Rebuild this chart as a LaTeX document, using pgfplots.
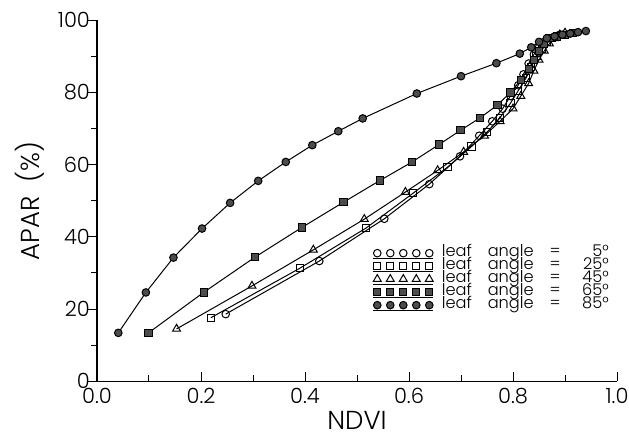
\documentclass[border=0pt]{standalone}
\usepackage{pgfplots}
\pgfplotsset{compat=1.18}
\usepackage{fontspec}
\setmainfont{Poppins Light}
\begin{document}
\begin{tikzpicture}
\begin{axis}[
 name=ax,
 scale only axis, width=260pt, height=180.5pt,
 xmin=0, xmax=1, ymin=0, ymax=100,
 axis lines*=left,
 axis line style={line width=0.6pt},
 xtick={0,0.2,0.4,0.6,0.8,1.0}, ytick={0,20,40,60,80,100},
 minor x tick num=1, minor y tick num=1,
 x tick label style={/pgf/number format/.cd,fixed,fixed zerofill,precision=1},
 /pgf/number format/assume math mode=true,
 tick align=inside, major tick length=4.5pt, minor tick length=3pt,
 every major y tick/.append style={xshift=-4.5pt},
 every minor y tick/.append style={xshift=-3pt},
 tick style={black, line width=0.5pt},
 tick label style={font=\fontsize{10.5}{12}\selectfont},
 label style={font=\fontsize{13}{14}\selectfont},
 xlabel={NDVI}, ylabel={APAR\ \ (\%)},
 xlabel style={yshift=3pt},
 legend style={draw=none, fill=none, at={(0.518,0.385)}, anchor=north west,
   font=\fontsize{8.1}{9}\selectfont,
   nodes={inner sep=0pt, text height=5.1pt, text depth=1.4pt},
   column sep=4pt},
 legend cell align=left,
 legend image code/.code={
   \draw[#1] plot[only marks] coordinates {(0pt,0pt)(6.5pt,0pt)(13pt,0pt)(19.5pt,0pt)(26pt,0pt)};
   \draw[black, line width=0.5pt] (-2pt,-2.8pt)--(28pt,-2.8pt);
 },
 every axis plot/.append style={black, line width=0.5pt},
]
\addplot[mark=o, mark size=1.9pt, mark options={fill=white, solid}] coordinates {
(0.2475,18.6)(0.4275,33.3)(0.5525,45.0)(0.639,54.6)(0.698,62.3)(0.735,68.0)(0.760,72.0)(0.780,75.5)(0.795,79.0)(0.810,82.0)(0.820,85.0)(0.830,88.0)(0.840,90.5)(0.850,92.5)(0.860,94.0)(0.870,95.0)(0.880,95.5)(0.890,96.0)};
\addlegendentry{leaf\hspace{8pt}angle\hspace{8pt}=\hspace{3pt}\makebox[21pt][r]{5°}}
\addplot[mark=square, mark size=1.8pt, mark options={fill=white, solid}] coordinates {
(0.219,17.6)(0.390,31.3)(0.517,42.4)(0.608,52.1)(0.674,59.3)(0.720,65.0)(0.750,69.0)(0.775,73.0)(0.795,77.0)(0.810,80.5)(0.825,84.0)(0.835,87.0)(0.845,90.0)(0.855,92.0)(0.865,94.0)(0.875,95.0)(0.885,95.5)(0.900,96.0)};
\addlegendentry{leaf\hspace{8pt}angle\hspace{8pt}=\hspace{3pt}\makebox[21pt][r]{25°}}
\addplot[mark=triangle, mark size=2.3pt, mark options={fill=white, solid}] coordinates {
(0.153,14.5)(0.298,26.4)(0.416,36.4)(0.514,44.9)(0.593,52.4)(0.655,58.4)(0.705,63.5)(0.745,68.0)(0.775,72.0)(0.800,75.5)(0.815,79.0)(0.830,82.5)(0.840,86.0)(0.850,89.0)(0.860,91.5)(0.870,93.5)(0.880,95.0)(0.890,96.0)(0.900,96.5)};
\addlegendentry{leaf\hspace{8pt}angle\hspace{8pt}=\hspace{3pt}\makebox[21pt][r]{45°}}
\addplot[mark=square*, mark size=1.8pt, mark options={fill=black!70, draw=black, solid}] coordinates {
(0.099,13.4)(0.205,24.6)(0.304,34.4)(0.394,42.6)(0.474,49.6)(0.544,55.6)(0.606,60.75)(0.658,65.6)(0.699,69.5)(0.737,73.0)(0.770,76.5)(0.795,80.0)(0.815,83.5)(0.830,86.5)(0.840,89.0)(0.850,91.5)(0.860,93.5)(0.870,95.0)(0.885,95.5)(0.900,96.0)(0.915,96.5)};
\addlegendentry{leaf\hspace{8pt}angle\hspace{8pt}=\hspace{3pt}\makebox[21pt][r]{65°}}
\addplot[mark=*, mark size=1.9pt, mark options={fill=black!70, draw=black, solid}] coordinates {
(0.041,13.4)(0.094,24.6)(0.147,34.25)(0.202,42.3)(0.256,49.4)(0.310,55.5)(0.363,60.75)(0.414,65.4)(0.464,69.25)(0.511,72.8)(0.615,79.7)(0.700,84.5)(0.768,88.1)(0.813,90.75)(0.835,92.5)(0.850,94.0)(0.865,95.0)(0.880,95.5)(0.895,96.0)(0.910,96.3)(0.925,96.7)(0.940,97.0)};
\addlegendentry{leaf\hspace{8pt}angle\hspace{8pt}=\hspace{3pt}\makebox[21pt][r]{85°}}
\coordinate (bbsw) at (axis cs:-0.1865,-15.2);
\coordinate (bbne) at (axis cs:1.023,105.6);
\end{axis}
\pgfresetboundingbox
\path[use as bounding box] (bbsw) rectangle (bbne);
\end{tikzpicture}
\end{document}
